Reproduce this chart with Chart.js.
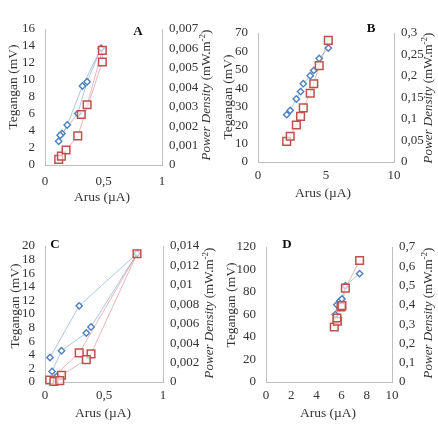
<!DOCTYPE html>
<html>
<head>
<meta charset="utf-8">
<script src="https://cdn.jsdelivr.net/npm/chart.js@4.4.0/dist/chart.umd.min.js"></script>
<style>
html, body { margin: 0; padding: 0; background: #fff; }
#wrap { position: relative; width: 438px; height: 438px; overflow: hidden; }
.cell { position: absolute; width: 219px; height: 219px; }
</style>
</head>
<body>
<div id="wrap">
  <div class="cell" style="left:0;top:0"><canvas id="cA" width="219" height="219"></canvas></div>
  <div class="cell" style="left:219px;top:0"><canvas id="cB" width="219" height="219"></canvas></div>
  <div class="cell" style="left:0;top:219px"><canvas id="cC" width="219" height="219"></canvas></div>
  <div class="cell" style="left:219px;top:219px"><canvas id="cD" width="219" height="219"></canvas></div>
</div>
<script>
// Panel A
const arusA_teg = [0.117, 0.19, 0.32, 0.48, 0.36, 0.28, 0.145, 0.13];
const teganganA = [2.8, 4.7, 9.3, 13.75, 9.8, 6.05, 3.7, 3.5];
const arusA_pd = [0.117, 0.14, 0.18, 0.28, 0.49, 0.49, 0.36, 0.31];
const powerA = [0.00029, 0.00046, 0.00077, 0.0015, 0.0053, 0.0059, 0.0031, 0.0026];

// Panel B
const arusB = [2.11, 2.37, 2.82, 3.13, 3.33, 3.84, 4.1, 4.5, 5.17];
const teganganB = [25.7, 28, 34.2, 38.2, 42.5, 46.8, 49.7, 56.2, 61.8];
const powerB = [0.048, 0.060, 0.086, 0.106, 0.126, 0.160, 0.182, 0.224, 0.283];

// Panel C
const arusC_teg = [0.042, 0.29, 0.78, 0.39, 0.35, 0.14, 0.06, 0.1];
const teganganC = [3.6, 11.2, 18.9, 8.1, 7.2, 4.6, 1.56, 0.8];
const arusC_pd = [0.04, 0.29, 0.78, 0.39, 0.35, 0.14, 0.075, 0.125];
const powerC = [0.00021, 0.0030, 0.0132, 0.0029, 0.0023, 0.0007, 0.00007, 0.00014];

// Panel D
const arusD_teg = [5.5, 5.63, 5.87, 6.03, 6.3, 7.43];
const teganganD = [59.9, 68.7, 72.3, 73.8, 85.6, 96.3];
const arusD_pd = [5.42, 5.66, 5.63, 5.95, 6.03, 6.3, 7.43];
const powerD = [0.285, 0.315, 0.332, 0.389, 0.396, 0.487, 0.63];

const FONT = '"Liberation Serif", "DejaVu Serif", serif';
const TXT = '#333';
const AXIS = '#bfbfbf';

const fmt = v => parseFloat(Number(v).toFixed(6)).toString().replace('.', ',');
const pts = (xs, ys) => xs.map((x, i) => ({ x: x, y: ys[i] }));

const titlePlugin = {
  id: 'titles',
  afterDraw(chart, args, o) {
    const ctx = chart.ctx;
    ctx.save();
    ctx.fillStyle = TXT;
    ctx.textAlign = 'center';
    ctx.textBaseline = 'middle';
    ctx.font = '13.5px ' + FONT;

    // left axis title
    ctx.save();
    ctx.translate(o.left[0], o.left[1]);
    ctx.rotate(-Math.PI / 2);
    ctx.fillText('Tegangan (mV)', 0, 0);
    ctx.restore();

    // x axis title
    ctx.fillText('Arus (µA)', o.bottom[0], o.bottom[1]);

    // right axis title, mixed style
    const segs = [
      { t: 'Power Density', f: 'italic 13px ' + FONT, dy: 0 },
      { t: ' (mW.m', f: '13px ' + FONT, dy: 0 },
      { t: '-2', f: '9px ' + FONT, dy: -4 },
      { t: ')', f: '13px ' + FONT, dy: 0 }
    ];
    let total = 0;
    segs.forEach(s => { ctx.font = s.f; s.w = ctx.measureText(s.t).width; total += s.w; });
    ctx.save();
    ctx.translate(o.right[0], o.right[1]);
    ctx.rotate(-Math.PI / 2);
    ctx.textAlign = 'left';
    let x = -total / 2;
    segs.forEach(s => { ctx.font = s.f; ctx.fillText(s.t, x, s.dy); x += s.w; });
    ctx.restore();

    // panel letter
    ctx.fillStyle = '#111';
    ctx.font = 'bold 13px ' + FONT;
    ctx.fillText(o.letter, o.letterPos[0], o.letterPos[1]);
    ctx.restore();
  }
};

function makeChart(id, s) {
  const ctx = document.getElementById(id).getContext('2d');
  const tickFont = { family: FONT, size: 13 };
  return new Chart(ctx, {
    type: 'scatter',
    data: {
      datasets: [
        {
          label: 'Tegangan',
          data: s.teg,
          yAxisID: 'y',
          showLine: true,
          borderColor: 'rgba(79,129,189,0.45)',
          borderWidth: 1,
          pointStyle: 'rectRot',
          pointRadius: 3.2,
          pointBorderColor: '#4f81bd',
          pointBackgroundColor: '#fff',
          pointBorderWidth: 1.4,
          order: 1,
          clip: false
        },
        {
          label: 'Power Density',
          data: s.pd,
          yAxisID: 'y2',
          showLine: true,
          borderColor: 'rgba(192,80,77,0.4)',
          borderWidth: 1,
          pointStyle: 'rect',
          pointRadius: 5.4,
          pointBorderColor: '#c0504d',
          pointBackgroundColor: 'rgba(255,255,255,0.6)',
          pointBorderWidth: 1.5,
          order: 0,
          clip: false
        }
      ]
    },
    options: {
      responsive: false,
      animation: false,
      layout: { padding: { top: s.area.t, left: 0, right: 0, bottom: 0 } },
      scales: {
        x: {
          type: 'linear',
          min: 0, max: s.xMax,
          grid: { display: false, drawTicks: false },
          border: { display: true, color: AXIS, width: 1 },
          ticks: { stepSize: s.xStep, autoSkip: false, maxRotation: 0, padding: s.xPad, color: TXT, font: tickFont, callback: fmt },
          afterFit: sc => { sc.height = 219 - s.area.b; }
        },
        y: {
          type: 'linear',
          position: 'left',
          min: 0, max: s.yMax,
          grid: { display: false, drawTicks: false },
          border: { display: true, color: AXIS, width: 1 },
          ticks: { stepSize: s.yStep, autoSkip: false, padding: 10, color: TXT, font: tickFont, callback: fmt },
          afterFit: sc => { sc.width = s.area.l; }
        },
        y2: {
          type: 'linear',
          position: 'right',
          min: 0, max: s.y2Max,
          grid: { display: false, drawTicks: false },
          border: { display: true, color: AXIS, width: 1 },
          ticks: { stepSize: s.y2Step, autoSkip: false, padding: 7, color: TXT, font: tickFont, callback: fmt },
          afterFit: sc => { sc.width = 219 - s.area.r; }
        }
      },
      plugins: {
        legend: { display: false },
        tooltip: { enabled: false },
        titles: s.titles
      }
    },
    plugins: [titlePlugin]
  });
}

makeChart('cA', {
  teg: pts(arusA_teg, teganganA), pd: pts(arusA_pd, powerA),
  area: { l: 45, r: 162, t: 29, b: 165 },
  xMax: 1, xStep: 0.5, xPad: 9,
  yMax: 16, yStep: 2, y2Max: 0.007, y2Step: 0.001,
  titles: { left: [13, 87], right: [207, 95], bottom: [102, 197], letter: 'A', letterPos: [138, 32] }
});

makeChart('cB', {
  teg: pts(arusB, teganganB), pd: pts(arusB, powerB),
  area: { l: 39, r: 175, t: 33, b: 162 },
  xMax: 10, xStep: 5, xPad: 6,
  yMax: 70, yStep: 10, y2Max: 0.3, y2Step: 0.05,
  titles: { left: [9, 97], right: [210, 98], bottom: [104, 193], letter: 'B', letterPos: [152, 29] }
});

makeChart('cC', {
  teg: pts(arusC_teg, teganganC), pd: pts(arusC_pd, powerC),
  area: { l: 45, r: 163, t: 27, b: 163 },
  xMax: 1, xStep: 0.5, xPad: 6,
  yMax: 20, yStep: 2, y2Max: 0.014, y2Step: 0.002,
  titles: { left: [15, 87], right: [210, 94], bottom: [103, 194], letter: 'C', letterPos: [55, 26] }
});

makeChart('cD', {
  teg: pts(arusD_teg, teganganD), pd: pts(arusD_pd, powerD),
  area: { l: 47, r: 173, t: 28, b: 163 },
  xMax: 10, xStep: 2, xPad: 6,
  yMax: 120, yStep: 20, y2Max: 0.7, y2Step: 0.1,
  titles: { left: [12, 86], right: [210, 94], bottom: [109, 194], letter: 'D', letterPos: [68, 26] }
});
</script>
</body>
</html>
